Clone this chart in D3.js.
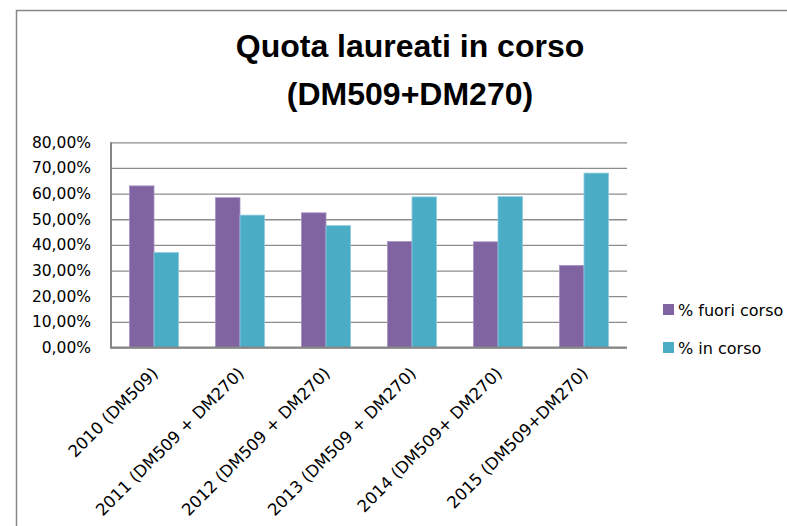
<html>
<head>
  <style>
	body{
		margin: 0;
		background: white
	}
	.chart text{
		font-family: "DejaVu Sans", sans-serif;
		fill: black
	}
	.chart .title{
		font-family: "Liberation Sans", Arial, sans-serif;
		font-weight: bold;
		font-size: 32px
	}
	.chart .grid line{
		stroke: #8c8c8c;
		stroke-width: 1.3px
	}
	.chart .axis-line{
		stroke: #868686;
		stroke-width: 2px
	}
  </style>
</head>

<body>
	<div id="chart"></div>
	<script src="https://d3js.org/d3.v7.min.js"></script>
	<script>
	  var categories = [
	    '2010 (DM509)',
	    '2011 (DM509 + DM270)',
	    '2012 (DM509 + DM270)',
	    '2013 (DM509 + DM270)',
	    '2014 (DM509+ DM270)',
	    '2015 (DM509+DM270)'
	  ];
	  var seriesNames = ['% fuori corso', '% in corso'];
	  var fuoriCorso = [63.0, 58.4, 52.5, 41.3, 41.2, 32.0];
	  var inCorso    = [37.0, 51.6, 47.5, 58.7, 58.8, 68.0];
	  var yTicks     = [0, 10, 20, 30, 40, 50, 60, 70, 80];
	  var titleLines = ['Quota laureati in corso', '(DM509+DM270)'];

	  (function () {
		  var
		    width   = 787,
		    height  = 526,
		    left    = 111,
		    right   = 627,
		    top     = 142.3,
		    bottom  = 347.5,
		    colors  = ['#8064a2', '#4bacc6'],
		    edges   = ['#a592c0', '#8ccbdc'],
		    series  = [fuoriCorso, inCorso];

		  var itFormat = d3.formatLocale({decimal: ',', thousands: '.', grouping: [3], currency: ['', '€']}).format('.2f');

		  var svg = d3.select('#chart').append('svg')
		    .attr('class', 'chart')
		    .attr('width', width)
		    .attr('height', height);

		  svg.append('rect')                          // outer chart frame
		    .attr('x', 16.5)
		    .attr('y', 10.5)
		    .attr('width', 900)
		    .attr('height', 700)
		    .attr('fill', 'white')
		    .attr('stroke', '#868686')
		    .attr('stroke-width', 1.5);

		  svg.selectAll('text.title')
		    .data(titleLines)
		    .enter().append('text')
		    .attr('class', 'title')
		    .attr('x', 410)
		    .attr('y', function (d, i) { return 56.5 + i * 48.5; })
		    .attr('text-anchor', 'middle')
		    .text(function (d) { return d; });

		  var x = d3.scaleBand()
		    .domain(categories)
		    .range([left, right])
		    .paddingInner(0.43)
		    .paddingOuter(0.215);

		  var xs = d3.scaleBand()
		    .domain(d3.range(series.length))
		    .range([0, x.bandwidth()]);

		  var y = d3.scaleLinear()
		    .domain([0, 80])
		    .range([bottom, top]);

		  // gridlines + y labels
		  var yAxis = d3.axisLeft(y)
		    .tickValues(yTicks)
		    .tickSize(-(right - left))
		    .tickPadding(20)
		    .tickFormat(function (d) { return itFormat(d) + '%'; });

		  var gy = svg.append('g')
		    .attr('class', 'grid')
		    .attr('transform', 'translate(' + left + ',0)')
		    .call(yAxis);
		  gy.select('.domain').remove();
		  gy.selectAll('text')
		    .attr('font-size', 15.5)
		    .attr('font-family', '"DejaVu Sans", sans-serif')
		    .attr('fill', 'black');

		  // bars
		  series.forEach(function (vals, s) {
		    svg.append('g').selectAll('rect')
		      .data(vals)
		      .enter().append('rect')
		      .attr('x', function (d, i) { return x(categories[i]) + xs(s); })
		      .attr('y', function (d) { return y(d); })
		      .attr('width', xs.bandwidth())
		      .attr('height', function (d) { return y(0) - y(d); })
		      .attr('fill', colors[s])
		      .attr('stroke', edges[s])
		      .attr('stroke-width', 0.8);
		  });

		  svg.append('line')                          // y axis
		    .attr('class', 'axis-line')
		    .attr('x1', left).attr('y1', top)
		    .attr('x2', left).attr('y2', bottom + 1);

		  svg.append('line')                          // x axis
		    .attr('class', 'axis-line')
		    .attr('x1', left - 1).attr('y1', bottom)
		    .attr('x2', right).attr('y2', bottom);

		  // rotated category labels
		  svg.append('g').selectAll('text')
		    .data(categories)
		    .enter().append('text')
		    .attr('font-size', 16.5)
		    .attr('text-anchor', 'end')
		    .attr('transform', function (d) {
		      return 'translate(' + (x(d) + x.bandwidth() / 2 + 5) + ',' + (bottom + 27) + ') rotate(-45)';
		    })
		    .text(function (d) { return d; });

		  // legend
		  var lg = svg.append('g').selectAll('g')
		    .data(seriesNames)
		    .enter().append('g')
		    .attr('transform', function (d, i) { return 'translate(663,' + (304 + i * 38) + ')'; });

		  lg.append('rect')
		    .attr('width', 11)
		    .attr('height', 11)
		    .attr('fill', function (d, i) { return colors[i]; });

		  lg.append('text')
		    .attr('x', 15)
		    .attr('y', 11.5)
		    .attr('font-size', 16)
		    .text(function (d) { return d; });
		})();
	</script>
</body>
</html>
